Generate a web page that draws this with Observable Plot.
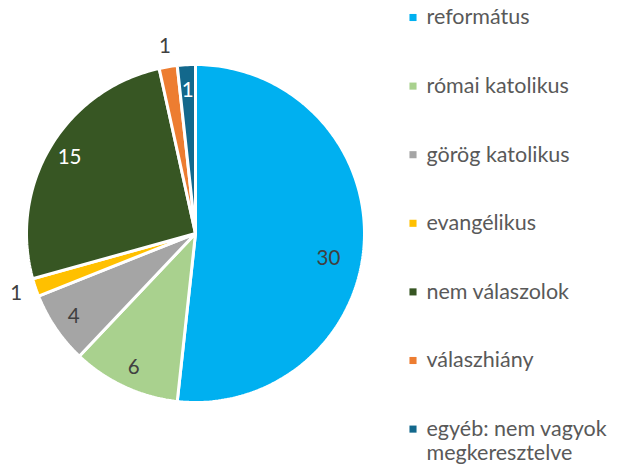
<!DOCTYPE html>
<html>
<head>
<meta charset="utf-8">
<script src="https://cdn.jsdelivr.net/npm/d3@7"></script>
<script src="https://cdn.jsdelivr.net/npm/@observablehq/plot@0.6"></script>
<style>
  html, body { margin: 0; padding: 0; background: #fff; }
  #chart svg { display: block; }
</style>
</head>
<body>
<div id="chart"></div>
<script>
const categories = ["református", "római katolikus", "görög katolikus", "evangélikus", "nem válaszolok", "válaszhiány", "egyéb: nem vagyok megkeresztelve"];
const values = [30, 6, 4, 1, 15, 1, 1];
const colors = ["#00B0F0", "#A9D18E", "#A5A5A5", "#FFC000", "#375623", "#ED7D31", "#13688C"];

const W = 632, H = 469;
const cx = 195, cy = 233, R = 169;
const total = d3.sum(values);
const pie = d3.pie().sort(null).value(d => d)(values);

// slice polygons (angles from top, clockwise)
const pt = (a, r) => ({x: cx + r * Math.sin(a), y: cy - r * Math.cos(a)});
const slicePts = [];
pie.forEach((s, i) => {
  const cat = categories[i];
  slicePts.push({cat, ...pt(0, 0)});
  const n = Math.max(2, Math.ceil((s.endAngle - s.startAngle) / (Math.PI / 180)));
  for (let k = 0; k <= n; k++) {
    const a = s.startAngle + (s.endAngle - s.startAngle) * k / n;
    slicePts.push({cat, ...pt(a, R)});
  }
  slicePts.push({cat, ...pt(0, 0)});
});

// data labels
const darkFill = new Set(["nem válaszolok", "egyéb: nem vagyok megkeresztelve"]);
const labels = pie.map((s, i) => {
  const mid = (s.startAngle + s.endAngle) / 2;
  let f, a = mid;
  if (values[i] / total < 0.03) f = (i === values.length - 1) ? 0.85 : 1.12;
  else if (values[i] / total > 0.4) { f = 0.8; a = mid + 0.13; }
  else f = 0.87;
  return {cat: categories[i], v: values[i], ...pt(a, R * f)};
});

// legend
const lgY0 = 17, lgStep = 68.6, lgX = 412.5, lgTextX = 426, lineH = 24;
const legendRows = categories.map((c, i) => ({cat: c, y: lgY0 + i * lgStep}));
const wrapAt = "egyéb: nem vagyok";
const legendLines = [];
legendRows.forEach(r => {
  if (r.cat.startsWith(wrapAt) && r.cat.length > wrapAt.length) {
    legendLines.push({t: wrapAt, y: r.y});
    legendLines.push({t: r.cat.slice(wrapAt.length + 1), y: r.y + lineH});
  } else legendLines.push({t: r.cat, y: r.y});
});

const chart = Plot.plot({
  width: W, height: H,
  margin: 0,
  x: {domain: [0, W], range: [0, W], axis: null},
  y: {domain: [0, H], range: [0, H], axis: null},
  color: {domain: categories, range: colors},
  style: {fontFamily: "Lato, 'Open Sans', sans-serif"},
  marks: [
    Plot.line(slicePts, {x: "x", y: "y", z: "cat", fill: "cat", stroke: "white", strokeWidth: 3, strokeLinejoin: "miter", curve: "linear"}),
    Plot.text(labels, {x: "x", y: "y", text: d => String(d.v), fill: d => darkFill.has(d.cat) ? "#ffffff" : "#404040", fontSize: 20.5, textAnchor: "middle", lineAnchor: "middle"}),
    Plot.dot(legendRows, {x: () => lgX, y: "y", symbol: "square", r: 4, fill: "cat", stroke: null}),
    Plot.text(legendLines, {x: () => lgTextX, y: "y", text: "t", fill: "#595959", fontSize: 21.5, textAnchor: "start", lineAnchor: "middle"})
  ]
});
document.getElementById("chart").appendChild(chart);
</script>
</body>
</html>
